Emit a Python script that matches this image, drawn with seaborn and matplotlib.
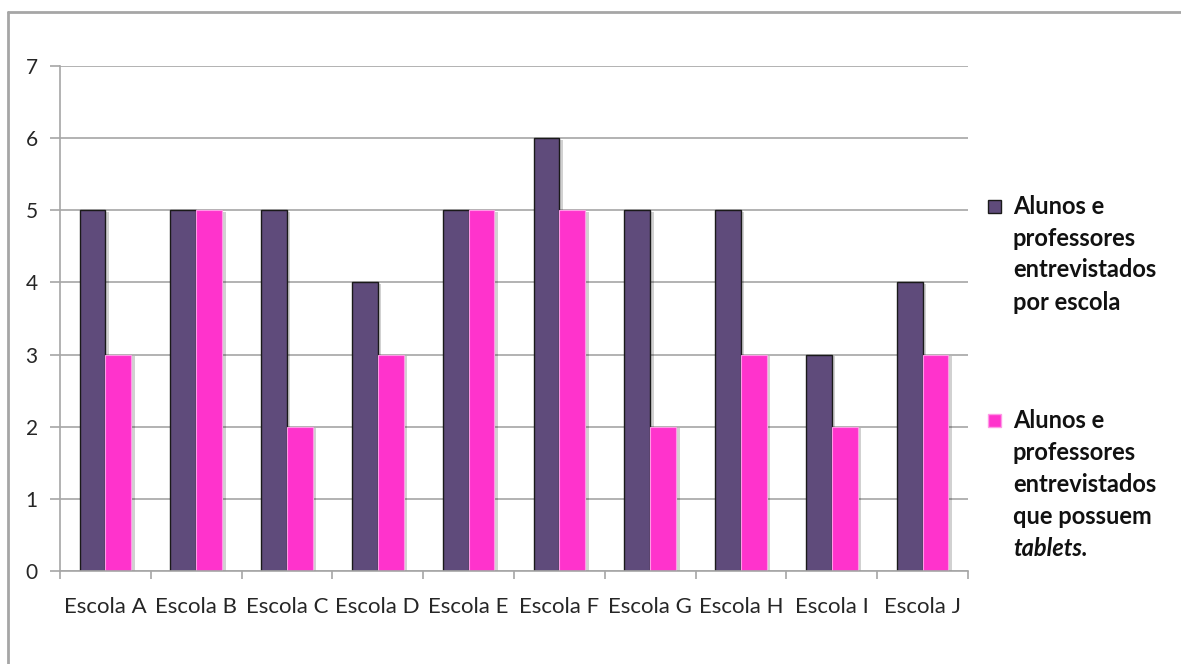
import matplotlib
matplotlib.use("Agg")
import matplotlib.pyplot as plt
import matplotlib.patheffects as pe
from matplotlib.lines import Line2D
from matplotlib.patches import Rectangle
import seaborn as sns
import pandas as pd
import numpy as np

categories = ["Escola A", "Escola B", "Escola C", "Escola D", "Escola E",
              "Escola F", "Escola G", "Escola H", "Escola I", "Escola J"]
series1_lines = ["Alunos e", "professores", "entrevistados", "por escola"]
series2_lines = ["Alunos e", "professores", "entrevistados", "que possuem", "tablets."]
series1 = [5, 5, 5, 4, 5, 6, 5, 5, 3, 4]
series2 = [3, 5, 2, 3, 5, 5, 2, 3, 2, 3]
yticks = [0, 1, 2, 3, 4, 5, 6, 7]

c1 = "#5F4B7B"
c2 = "#FF33CC"
e1 = "#1a1a1a"
e2 = "#FF99E6"

sns.set_theme(style="white")
plt.rcParams["font.family"] = ["Lato", "DejaVu Sans"]

df = pd.DataFrame({
    "Escola": categories * 2,
    "Valor": series1 + series2,
    "Serie": ["s1"] * len(categories) + ["s2"] * len(categories),
})

W, H = 1181, 664
fig = plt.figure(figsize=(W / 100, H / 100), dpi=100)
ax = fig.add_axes([60 / W, 1 - 571 / H, (968 - 60) / W, (571 - 66) / H])

sns.barplot(data=df, x="Escola", y="Valor", hue="Serie", order=categories,
            hue_order=["s1", "s2"], palette=[c1, c2], width=0.57, gap=0,
            saturation=1, legend=False, ax=ax)

n = len(categories)
for i, p in enumerate(ax.patches[:2 * n]):
    if i < n:
        p.set_edgecolor(e1)
        p.set_linewidth(1.0)
    else:
        p.set_edgecolor(e2)
        p.set_linewidth(0.8)
    p.set_path_effects([pe.SimplePatchShadow(offset=(2.5, -1), shadow_rgbFace="#000000", alpha=0.18),
                        pe.Normal()])

ax.set_ylim(0, 7)
ax.set_xlim(-0.5, n - 0.5)
ax.set_yticks(yticks)
ax.set_yticklabels([str(t) for t in yticks], fontsize=15)
ax.yaxis.grid(True, color="#A6A6A6", linewidth=1.2)
ax.set_axisbelow(True)
ax.set_xticks(np.arange(n))
ax.set_xticklabels(categories, fontsize=16)
ax.tick_params(axis="x", length=0, pad=19)
ax.tick_params(axis="y", length=7, width=1.2, color="#A6A6A6", left=True, pad=9)
ax.set_xticks(np.arange(-0.5, n, 1), minor=True)
ax.tick_params(axis="x", which="minor", length=6, width=1.2, color="#A6A6A6", bottom=True, direction="out")
ax.set_xlabel("")
ax.set_ylabel("")
for s in ["top", "right"]:
    ax.spines[s].set_visible(False)
for s in ["left", "bottom"]:
    ax.spines[s].set_color("#A6A6A6")
    ax.spines[s].set_linewidth(1.2)

# legend (manual, to match the layout of the reference)
def px(x, y):
    return x / W, 1 - y / H

fs = 17
step = 32
for (marker_y, lines, fc, ec) in [(206, series1_lines, c1, e1), (420, series2_lines, c2, e2)]:
    x0, y0 = px(988, marker_y + 6.5)
    fig.add_artist(Rectangle((x0, y0), 13 / W, 13 / H, transform=fig.transFigure,
                             facecolor=fc, edgecolor=ec, linewidth=1.0))
    for k, line in enumerate(lines):
        style = "italic" if line == "tablets." else "normal"
        tx, ty = px(1013, marker_y + k * step)
        fig.text(tx, ty, line, fontsize=fs, fontweight="bold", fontstyle=style,
                 va="center", ha="left", color="#111111")

# outer frame
fig.add_artist(Line2D([8 / W, 1.0], [1 - 12 / H, 1 - 12 / H], transform=fig.transFigure,
                      color="#A6A6A6", linewidth=2))
fig.add_artist(Line2D([8 / W, 8 / W], [0, 1 - 12 / H], transform=fig.transFigure,
                      color="#A6A6A6", linewidth=2))

fig.savefig("out.png", dpi=100)
